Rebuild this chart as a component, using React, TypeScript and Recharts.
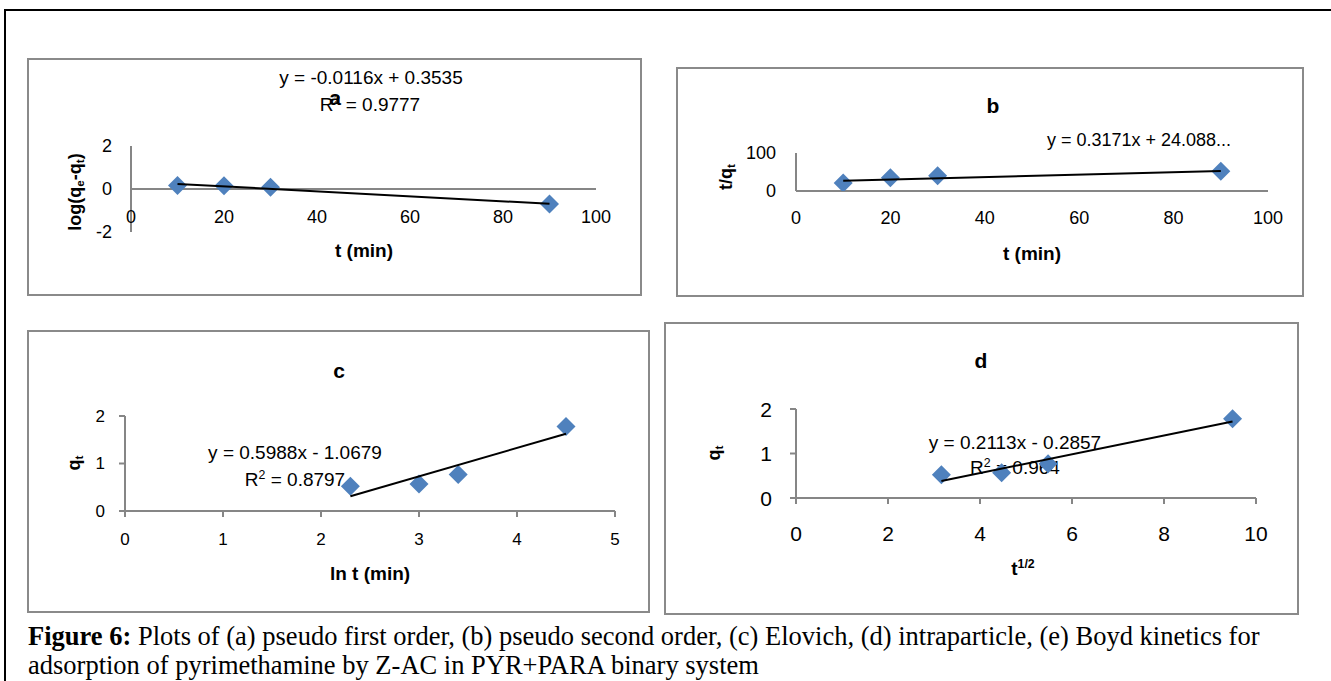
import React from 'react';
import { ScatterChart, Scatter, XAxis, YAxis, ReferenceLine } from 'recharts';

// kinetic data
const tMin = [10, 20, 30, 90];
const logQeQt = [0.16, 0.15, 0.08, -0.7];
const tOverQt = [21, 35, 40, 52];
const lnT = [2.3, 3.0, 3.4, 4.5];
const sqrtT = [3.16, 4.47, 5.48, 9.49];
const qt = [0.52, 0.57, 0.77, 1.78];

// excel trendline fits (slope, intercept)
const fitA = [-0.0116, 0.3535];
const fitB = [0.3171, 24.088];
const fitC = [0.5988, -1.0679];
const fitD = [0.2113, -0.2857];

const tTicks = [0, 20, 40, 60, 80, 100];
const lnTicks = [0, 1, 2, 3, 4, 5];
const sqrtTicks = [0, 2, 4, 6, 8, 10];

const FONT = '"Liberation Sans", Arial, sans-serif';
const SERIF = '"Liberation Serif", "Times New Roman", serif';
const BLUE = '#4F81BD';
const AXIS = '#868686';

const toPoints = (xs: number[], ys: number[]) => xs.map((x, i) => ({ x, y: ys[i] }));

const trend = (xs: number[], fit: number[]) => {
  const a = xs[0];
  const b = xs[xs.length - 1];
  return [
    { x: a, y: fit[0] * a + fit[1] },
    { x: b, y: fit[0] * b + fit[1] },
  ];
};

const Diamond = (p: any) => {
  const { cx, cy } = p;
  const r = 9.5;
  return (
    <polygon
      points={`${cx},${cy - r} ${cx + r},${cy} ${cx},${cy + r} ${cx - r},${cy}`}
      fill={BLUE}
    />
  );
};

const makeTick = (size: number, dx: number, dy: number, anchor: string) => (p: any) => (
  <text
    x={p.x + dx}
    y={p.y + dy}
    textAnchor={anchor}
    dominantBaseline="central"
    fontSize={size}
    fontFamily={FONT}
    fill="#000"
  >
    {p.payload.value}
  </text>
);

const Txt = ({ x, y, size, bold, rotate, children }: any) => (
  <div
    style={{
      position: 'absolute',
      left: x,
      top: y,
      transform: `translate(-50%, -50%)${rotate ? ' rotate(-90deg)' : ''}`,
      fontSize: size,
      fontWeight: bold ? 700 : 400,
      fontFamily: FONT,
      whiteSpace: 'nowrap',
      lineHeight: 1,
      color: '#000',
    }}
  >
    {children}
  </div>
);

const Sub = ({ children }: any) => (
  <span style={{ fontSize: '0.65em', verticalAlign: '-0.3em' }}>{children}</span>
);
const Sup = ({ children }: any) => (
  <span style={{ fontSize: '0.65em', verticalAlign: '0.55em' }}>{children}</span>
);

interface PanelProps {
  box: number[];
  margin: { top: number; right: number; bottom: number; left: number };
  xs: number[];
  ys: number[];
  fit: number[];
  xDomain: number[];
  xTicks: number[];
  yDomain: number[];
  yTicks: number[];
  tickFont: number;
  xTickDy: number;
  yTickDx: number;
  tickMarks?: boolean;
  crossAtZero?: boolean;
  children?: React.ReactNode;
}

const Panel = ({
  box, margin, xs, ys, fit, xDomain, xTicks, yDomain, yTicks,
  tickFont, xTickDy, yTickDx, tickMarks = false, crossAtZero = false, children,
}: PanelProps) => {
  const [left, top, width, height] = box;
  const size = tickMarks ? 6 : 0;
  const line = { stroke: AXIS, strokeWidth: 2 };
  return (
    <>
      <div
        style={{
          position: 'absolute',
          left,
          top,
          width,
          height,
          boxSizing: 'border-box',
          border: '2px solid #8a8a8a',
          background: '#fff',
        }}
      />
      <div style={{ position: 'absolute', left: 0, top: 0 }}>{children}</div>
      <div style={{ position: 'absolute', left, top, width, height }}>
        <ScatterChart width={width} height={height} margin={margin}>
          <XAxis
            type="number"
            dataKey="x"
            domain={xDomain}
            ticks={xTicks}
            interval={0}
            height={30}
            allowDataOverflow
            axisLine={crossAtZero ? false : line}
            tickLine={tickMarks ? line : false}
            tickSize={size}
            tickMargin={0}
            tick={makeTick(tickFont, 0, xTickDy, 'middle')}
          />
          <YAxis
            type="number"
            dataKey="y"
            domain={yDomain}
            ticks={yTicks}
            interval={0}
            width={40}
            allowDataOverflow
            axisLine={line}
            tickLine={tickMarks ? line : false}
            tickSize={size}
            tickMargin={0}
            tick={makeTick(tickFont, yTickDx, 0, 'end')}
          />
          {crossAtZero && <ReferenceLine y={0} stroke={AXIS} strokeWidth={2} />}
          <Scatter data={toPoints(xs, ys)} shape={Diamond} isAnimationActive={false} />
          <Scatter
            data={trend(xs, fit)}
            line={{ stroke: '#000', strokeWidth: 2 }}
            shape={() => <g />}
            isAnimationActive={false}
          />
        </ScatterChart>
      </div>
    </>
  );
};

export default function App() {
  return (
    <div
      style={{
        position: 'absolute',
        left: 0,
        top: 0,
        width: 1331,
        height: 681,
        background: '#fff',
        overflow: 'hidden',
      }}
    >
      <div
        style={{
          position: 'absolute',
          left: 4,
          top: 9,
          width: 1400,
          height: 700,
          borderLeft: '2px solid #000',
          borderTop: '2px solid #000',
        }}
      />

      {/* a: pseudo first order */}
      <Panel
        box={[27, 58, 615, 238]}
        margin={{ top: 88, right: 46, bottom: 34, left: 64 }}
        xs={tMin}
        ys={logQeQt}
        fit={fitA}
        xDomain={[0, 100]}
        xTicks={tTicks}
        yDomain={[-2, 2]}
        yTicks={[-2, 0, 2]}
        tickFont={18}
        xTickDy={-15}
        yTickDx={-19}
        crossAtZero
      >
        <Txt x={371} y={77} size={19}>y = -0.0116x + 0.3535</Txt>
        <Txt x={370} y={104} size={19}>R<Sup>2</Sup> = 0.9777</Txt>
        <Txt x={335} y={97} size={21} bold>a</Txt>
        <Txt x={364} y={250} size={19} bold>t (min)</Txt>
        <Txt x={76} y={192} size={18} bold rotate>
          log(q<Sub>e</Sub>-q<Sub>t</Sub>)
        </Txt>
      </Panel>

      {/* b: pseudo second order */}
      <Panel
        box={[676, 67, 628, 230]}
        margin={{ top: 86, right: 36, bottom: 76, left: 80 }}
        xs={tMin}
        ys={tOverQt}
        fit={fitB}
        xDomain={[0, 100]}
        xTicks={tTicks}
        yDomain={[0, 100]}
        yTicks={[0, 100]}
        tickFont={18}
        xTickDy={27}
        yTickDx={-20}
      >
        <Txt x={993} y={105} size={21} bold>b</Txt>
        <Txt x={1139} y={140} size={18}>y = 0.3171x + 24.088...</Txt>
        <Txt x={1032} y={253} size={19} bold>t (min)</Txt>
        <Txt x={727} y={177} size={18} bold rotate>
          t/q<Sub>t</Sub>
        </Txt>
      </Panel>

      {/* c: Elovich */}
      <Panel
        box={[27, 330, 623, 283]}
        margin={{ top: 86, right: 35, bottom: 72, left: 58 }}
        xs={lnT}
        ys={qt}
        fit={fitC}
        xDomain={[0, 5]}
        xTicks={lnTicks}
        yDomain={[0, 2]}
        yTicks={[0, 1, 2]}
        tickFont={17}
        xTickDy={22}
        yTickDx={-14}
        tickMarks
      >
        <Txt x={339} y={370} size={21} bold>c</Txt>
        <Txt x={295} y={452} size={19}>y = 0.5988x - 1.0679</Txt>
        <Txt x={295} y={479} size={19}>R<Sup>2</Sup> = 0.8797</Txt>
        <Txt x={370} y={573} size={19} bold>ln t (min)</Txt>
        <Txt x={75} y={463} size={18} bold rotate>
          q<Sub>t</Sub>
        </Txt>
      </Panel>

      {/* d: intraparticle diffusion */}
      <Panel
        box={[664, 322, 635, 293]}
        margin={{ top: 87, right: 43, bottom: 87, left: 92 }}
        xs={sqrtT}
        ys={qt}
        fit={fitD}
        xDomain={[0, 10]}
        xTicks={sqrtTicks}
        yDomain={[0, 2]}
        yTicks={[0, 1, 2]}
        tickFont={21}
        xTickDy={29}
        yTickDx={-18}
        tickMarks
      >
        <Txt x={981} y={360} size={21} bold>d</Txt>
        <Txt x={1015} y={442} size={19}>y = 0.2113x - 0.2857</Txt>
        <Txt x={1015} y={467} size={19}>R<Sup>2</Sup> = 0.964</Txt>
        <Txt x={1023} y={568} size={19} bold>
          t<Sup>1/2</Sup>
        </Txt>
        <Txt x={715} y={453} size={18} bold rotate>
          q<Sub>t</Sub>
        </Txt>
      </Panel>

      <div
        style={{
          position: 'absolute',
          left: 28,
          top: 622,
          fontFamily: SERIF,
          fontSize: 26.5,
          lineHeight: '29px',
          whiteSpace: 'nowrap',
          color: '#000',
        }}
      >
        <b>Figure 6:</b> Plots of (a) pseudo first order, (b) pseudo second order, (c) Elovich, (d)
        intraparticle, (e) Boyd kinetics for
        <br />
        adsorption of pyrimethamine by Z-AC in PYR+PARA binary system
      </div>
    </div>
  );
}
